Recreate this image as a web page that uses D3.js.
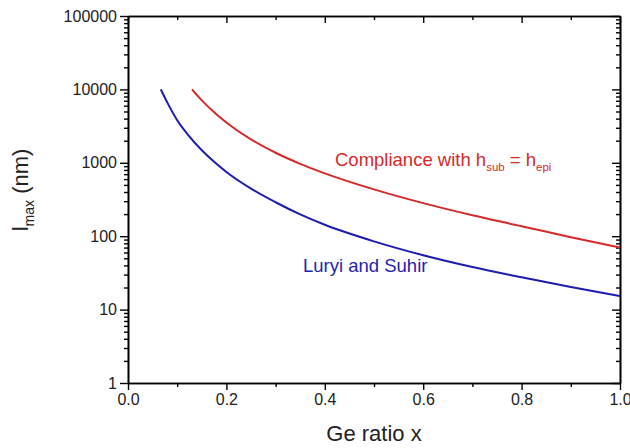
<!DOCTYPE html>
<html><head><meta charset="utf-8">
<script src="https://cdn.jsdelivr.net/npm/d3@7"></script>
<style>
body{margin:0;background:#fff;}
svg{display:block;font-family:"Liberation Sans",Arial,sans-serif;}
</style></head>
<body><svg id="c" width="630" height="448"></svg>
<script>
// Data
const xMajorTicks = [0.0, 0.2, 0.4, 0.6, 0.8, 1.0];
const xMinorTicks = [0.1, 0.3, 0.5, 0.7, 0.9];
const yMajorTicks = [1, 10, 100, 1000, 10000, 100000];
const luryiX = [0.0667, 0.08, 0.1, 0.12, 0.15, 0.175, 0.2, 0.25, 0.3, 0.35, 0.4, 0.5, 0.6, 0.7, 0.8, 0.9, 1.0];
const luryiY = [10000, 6600, 3800, 2500, 1480, 1030, 750, 445, 290, 198, 143, 85, 55, 38, 27.5, 20.3, 15.3];
const complX = [0.13, 0.15, 0.175, 0.2, 0.25, 0.3, 0.35, 0.4, 0.5, 0.6, 0.7, 0.8, 0.9, 1.0];
const complY = [10000, 7080, 4880, 3540, 2085, 1370, 968, 718, 434, 282, 193, 137, 97, 70];

const svg = d3.select("#c");
const L = 128, R = 620, T = 16, B = 383;
const x = d3.scaleLinear().domain([0, 1]).range([L, R]);
const y = d3.scaleLog().domain([1, 100000]).range([B, T]);

const yMinor = [];
for (let d = 1; d < 100000; d *= 10) for (let k = 2; k <= 9; k++) yMinor.push(d * k);

function styleAxis(g) {
  g.selectAll("path").attr("stroke", "#000").attr("stroke-width", 1.6);
  g.selectAll("line").attr("stroke", "#000").attr("stroke-width", 1.4);
  g.selectAll("text").attr("fill", "#222").attr("font-size", 16).attr("font-family", "Liberation Sans, Arial, sans-serif");
}

// bottom
svg.append("g").attr("transform", `translate(0,${B})`)
  .call(d3.axisBottom(x).tickValues(xMinorTicks).tickSize(4).tickFormat("").tickSizeOuter(0)).call(styleAxis);
svg.append("g").attr("transform", `translate(0,${B})`)
  .call(d3.axisBottom(x).tickValues(xMajorTicks).tickSize(7).tickPadding(4).tickFormat(d3.format(".1f")).tickSizeOuter(0)).call(styleAxis);
// top (inward)
svg.append("g").attr("transform", `translate(0,${T})`)
  .call(d3.axisTop(x).tickValues(xMinorTicks).tickSize(-4).tickFormat("").tickSizeOuter(0)).call(styleAxis);
svg.append("g").attr("transform", `translate(0,${T})`)
  .call(d3.axisTop(x).tickValues(xMajorTicks).tickSize(-7).tickFormat("").tickSizeOuter(0)).call(styleAxis);
// left
svg.append("g").attr("transform", `translate(${L},0)`)
  .call(d3.axisLeft(y).tickValues(yMinor).tickSize(4).tickFormat("").tickSizeOuter(0)).call(styleAxis);
svg.append("g").attr("transform", `translate(${L},0)`)
  .call(d3.axisLeft(y).tickValues(yMajorTicks).tickSize(8).tickPadding(3).tickFormat(d3.format("d")).tickSizeOuter(0)).call(styleAxis);
// right (inward)
svg.append("g").attr("transform", `translate(${R},0)`)
  .call(d3.axisRight(y).tickValues(yMinor).tickSize(-4).tickFormat("").tickSizeOuter(0)).call(styleAxis);
svg.append("g").attr("transform", `translate(${R},0)`)
  .call(d3.axisRight(y).tickValues(yMajorTicks).tickSize(-8).tickFormat("").tickSizeOuter(0)).call(styleAxis);

// curves
const line = d3.line().x(d => x(d[0])).y(d => y(d[1])).curve(d3.curveMonotoneX);
svg.append("path").datum(luryiX.map((v, i) => [v, luryiY[i]]))
  .attr("d", line).attr("fill", "none").attr("stroke", "#1c1cb0").attr("stroke-width", 2);
svg.append("path").datum(complX.map((v, i) => [v, complY[i]]))
  .attr("d", line).attr("fill", "none").attr("stroke", "#d42a2a").attr("stroke-width", 2);

// annotations
const t1 = svg.append("text").attr("x", 335).attr("y", 166).attr("fill", "#d42a2a").attr("font-size", 18.5);
t1.append("tspan").text("Compliance with h");
t1.append("tspan").attr("dy", 5).attr("font-size", 11.5).text("sub");
t1.append("tspan").attr("dy", -5).text(" = h");
t1.append("tspan").attr("dy", 5).attr("font-size", 11.5).text("epi");

svg.append("text").attr("x", 303).attr("y", 272).attr("fill", "#2424b0").attr("font-size", 18.5).text("Luryi and Suhir");

// axis titles
svg.append("text").attr("x", (L + R) / 2).attr("y", 441).attr("text-anchor", "middle")
  .attr("font-size", 22).attr("fill", "#222").text("Ge ratio x");
const yl = svg.append("text").attr("transform", "translate(28,190) rotate(-90)")
  .attr("text-anchor", "middle").attr("font-size", 22).attr("fill", "#222");
yl.append("tspan").text("l");
yl.append("tspan").attr("dy", 6).attr("font-size", 14).text("max");
yl.append("tspan").attr("dy", -6).text(" (nm)");
</script></body></html>
